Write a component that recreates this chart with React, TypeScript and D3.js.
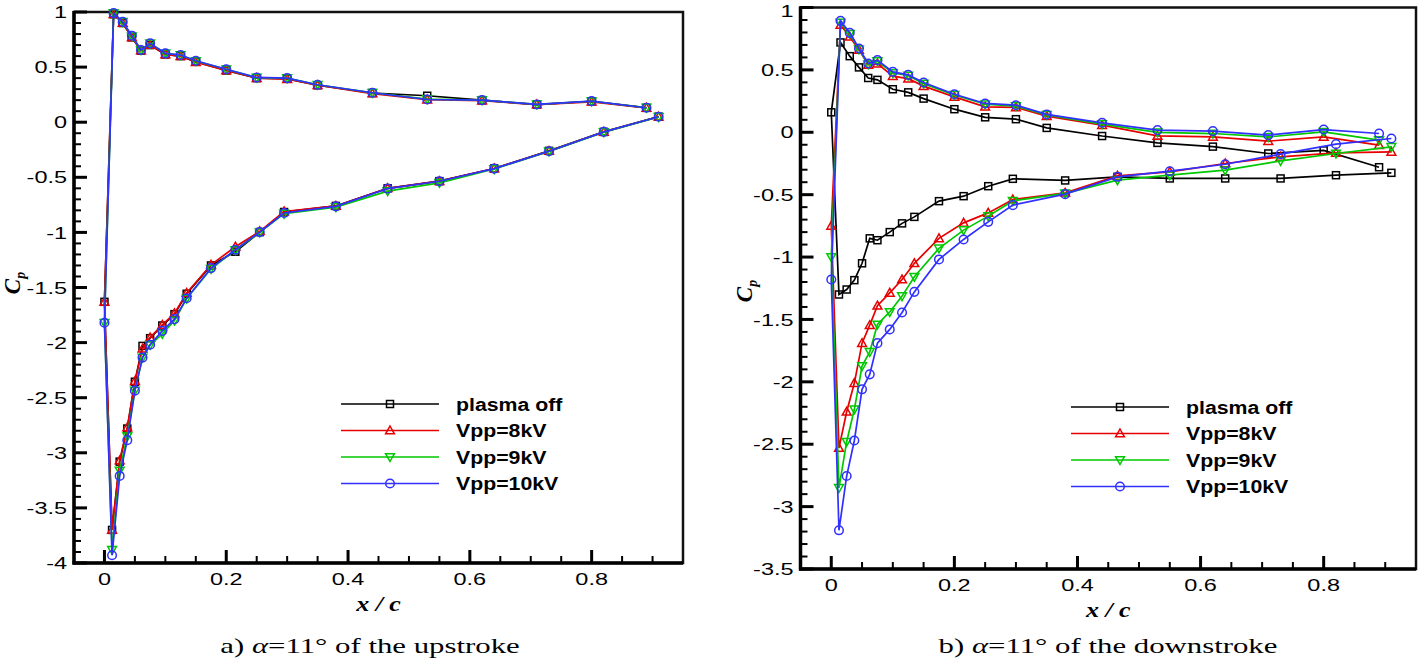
import React from 'react';
import * as d3 from 'd3';

// chordwise tap positions
const xUpper = [0, 0.015, 0.03, 0.045, 0.06, 0.075, 0.1, 0.125, 0.15, 0.2, 0.25, 0.3, 0.35, 0.44, 0.53, 0.62, 0.71, 0.8, 0.89];
const xLower = [0.0125, 0.025, 0.0375, 0.05, 0.0625, 0.075, 0.095, 0.115, 0.135, 0.175, 0.215, 0.255, 0.295, 0.38, 0.465, 0.55, 0.64, 0.73, 0.82, 0.91];

const seriesNames = ['plasma off', 'Vpp=8kV', 'Vpp=9kV', 'Vpp=10kV'];
const seriesColors = ['#000000', '#e60000', '#00c800', '#3030ff'];
const markerTypes = ['square', 'triangle', 'triangleDown', 'circle'];

// a) upstroke
const upOffUpper = [-1.63, 0.98, 0.9, 0.77, 0.65, 0.7, 0.615, 0.6, 0.55, 0.47, 0.4, 0.395, 0.335, 0.265, 0.24, 0.2, 0.16, 0.19, 0.13];
const up8Upper = [-1.63, 0.98, 0.9, 0.77, 0.65, 0.7, 0.615, 0.6, 0.545, 0.47, 0.4, 0.39, 0.335, 0.26, 0.205, 0.195, 0.16, 0.185, 0.13];
const up9Upper = [-1.82, 0.99, 0.91, 0.78, 0.655, 0.715, 0.625, 0.61, 0.555, 0.48, 0.405, 0.4, 0.34, 0.267, 0.21, 0.2, 0.162, 0.19, 0.132];
const up10Upper = [-1.82, 0.99, 0.91, 0.785, 0.655, 0.715, 0.625, 0.61, 0.558, 0.48, 0.406, 0.4, 0.34, 0.267, 0.206, 0.2, 0.161, 0.191, 0.131];
const upOffLower = [-3.7, -3.08, -2.78, -2.355, -2.03, -1.96, -1.845, -1.742, -1.557, -1.3, -1.175, -0.997, -0.815, -0.76, -0.6, -0.535, -0.42, -0.26, -0.088, 0.05];
const up8Lower = [-3.7, -3.07, -2.77, -2.35, -2.055, -1.955, -1.84, -1.735, -1.55, -1.294, -1.13, -0.99, -0.81, -0.76, -0.6, -0.535, -0.42, -0.262, -0.088, 0.049];
const up9Lower = [-3.88, -3.16, -2.85, -2.436, -2.136, -2.02, -1.92, -1.8, -1.6, -1.33, -1.16, -1.0, -0.83, -0.77, -0.625, -0.55, -0.425, -0.265, -0.09, 0.048];
const up10Lower = [-3.93, -3.21, -2.885, -2.436, -2.136, -2.02, -1.894, -1.787, -1.597, -1.324, -1.157, -0.997, -0.824, -0.764, -0.603, -0.536, -0.421, -0.264, -0.088, 0.049];

// b) downstroke
const downOffUpper = [0.16, 0.72, 0.61, 0.52, 0.435, 0.42, 0.345, 0.32, 0.27, 0.185, 0.12, 0.105, 0.035, -0.03, -0.085, -0.115, -0.17, -0.145, -0.28];
const down8Upper = [-0.75, 0.86, 0.765, 0.66, 0.54, 0.55, 0.45, 0.43, 0.37, 0.284, 0.204, 0.199, 0.129, 0.057, -0.029, -0.037, -0.071, -0.037, -0.103];
const down9Upper = [-1.0, 0.88, 0.79, 0.665, 0.545, 0.57, 0.475, 0.455, 0.39, 0.3, 0.225, 0.21, 0.14, 0.065, 0.0, -0.01, -0.037, 0.003, -0.063];
const down10Upper = [-1.18, 0.893, 0.797, 0.671, 0.551, 0.578, 0.484, 0.46, 0.399, 0.305, 0.231, 0.217, 0.143, 0.076, 0.017, 0.009, -0.023, 0.022, -0.01];
const downOffLower = [-1.3, -1.26, -1.185, -1.05, -0.85, -0.865, -0.8, -0.73, -0.678, -0.552, -0.512, -0.432, -0.373, -0.386, -0.357, -0.37, -0.37, -0.37, -0.344, -0.325];
const down8Lower = [-2.53, -2.24, -2.01, -1.69, -1.546, -1.39, -1.287, -1.18, -1.05, -0.85, -0.726, -0.646, -0.539, -0.485, -0.349, -0.317, -0.25, -0.197, -0.165, -0.157];
const down9Lower = [-2.85, -2.48, -2.22, -1.874, -1.76, -1.54, -1.44, -1.313, -1.158, -0.93, -0.784, -0.672, -0.55, -0.49, -0.384, -0.344, -0.304, -0.229, -0.17, -0.117];
const down10Lower = [-3.19, -2.755, -2.47, -2.06, -1.94, -1.69, -1.58, -1.444, -1.279, -1.019, -0.859, -0.718, -0.584, -0.496, -0.357, -0.312, -0.256, -0.175, -0.095, -0.05];

const xTicks = [0, 0.2, 0.4, 0.6, 0.8];

const SANS = 'Liberation Sans, Arial, Helvetica, sans-serif';
const SERIF = 'Liberation Serif, Times New Roman, serif';

function Marker({ type, cx, cy, color }) {
  if (type === 'square') {
    return <rect x={cx - 3.5} y={cy - 3.5} width={7} height={7} fill="none" stroke={color} strokeWidth={1.5} />;
  }
  if (type === 'triangle') {
    return <path d={`M${cx},${cy - 4.5}L${cx + 4.4},${cy + 3.3}L${cx - 4.4},${cy + 3.3}Z`} fill="none" stroke={color} strokeWidth={1.5} />;
  }
  if (type === 'triangleDown') {
    return <path d={`M${cx},${cy + 4.5}L${cx + 4.4},${cy - 3.3}L${cx - 4.4},${cy - 3.3}Z`} fill="none" stroke={color} strokeWidth={1.5} />;
  }
  return <circle cx={cx} cy={cy} r={4.3} fill="none" stroke={color} strokeWidth={1.5} />;
}

function Panel({ x0, x1, yTop, yBottom, yMin, uppers, lowers, legendX, legendY, captionX, label, caption, cpX, cpY }) {
  const xs = d3.scaleLinear().domain([-0.05, 0.95]).range([x0, x1]);
  const ys = d3.scaleLinear().domain([yMin, 1]).range([yBottom, yTop]);
  const line = d3.line().x(d => xs(d[0])).y(d => ys(d[1]));

  const yMajor = d3.range(yMin, 1.0001, 0.5);
  const yMinor = d3.range(yMin, 1.0001, 0.1).filter(v => Math.abs(v * 2 - Math.round(v * 2)) > 0.01);
  const xMinor = d3.range(0.05, 0.91, 0.05).filter(v => Math.abs(v * 5 - Math.round(v * 5)) > 0.01);

  const seriesPts = uppers.map((up, i) => {
    const lo = lowers[i].map((v, j) => [xLower[j], v]).reverse();
    const u = up.map((v, j) => [xUpper[j], v]);
    return lo.concat(u);
  });

  const fmt = v => {
    const r = Math.round(v * 10) / 10;
    return r === 0 ? '0' : String(r);
  };

  return (
    <g>
      <rect x={x0} y={yTop} width={x1 - x0} height={yBottom - yTop} fill="#fff" stroke="#111" strokeWidth={2.5} />
      <line x1={x0} x2={x0} y1={yTop - 1} y2={yBottom + 1.5} stroke="#000" strokeWidth={3.5} />
      <line x1={x0 - 1.5} x2={x1} y1={yBottom} y2={yBottom} stroke="#000" strokeWidth={3.5} />

      {yMajor.map(v => (
        <g key={'ym' + v}>
          <line x1={x0} x2={x0 + 13} y1={ys(v)} y2={ys(v)} stroke="#000" strokeWidth={3} />
          <text transform={`translate(${x0 - 7},${Math.max(ys(v), 11)}) scale(1.38,1)`} dy="0.36em" textAnchor="end" fontFamily={SANS} fontSize={17}>{fmt(v)}</text>
        </g>
      ))}
      {yMinor.map(v => (
        <line key={'yn' + v} x1={x0} x2={x0 + 7} y1={ys(v)} y2={ys(v)} stroke="#000" strokeWidth={2} />
      ))}
      {xTicks.map(v => (
        <g key={'xm' + v}>
          <line x1={xs(v)} x2={xs(v)} y1={yBottom} y2={yBottom - 13} stroke="#000" strokeWidth={3} />
          <text transform={`translate(${xs(v)},${yBottom + 22}) scale(1.38,1)`} textAnchor="middle" fontFamily={SANS} fontSize={17}>{fmt(v)}</text>
        </g>
      ))}
      {xMinor.map(v => (
        <line key={'xn' + v} x1={xs(v)} x2={xs(v)} y1={yBottom} y2={yBottom - 7} stroke="#000" strokeWidth={2} />
      ))}

      {seriesPts.map((pts, i) => (
        <g key={'s' + i}>
          <path d={line(pts)} fill="none" stroke={seriesColors[i]} strokeWidth={1.7} />
          {pts.map((p, j) => (
            <Marker key={j} type={markerTypes[i]} cx={xs(p[0])} cy={ys(p[1])} color={seriesColors[i]} />
          ))}
        </g>
      ))}

      {seriesNames.map((name, i) => {
        const y = legendY + i * 26.5;
        return (
          <g key={'l' + i}>
            <line x1={legendX} x2={legendX + 98} y1={y} y2={y} stroke={seriesColors[i]} strokeWidth={1.7} />
            <Marker type={markerTypes[i]} cx={legendX + 49} cy={y} color={seriesColors[i]} />
            <text transform={`translate(${legendX + 115},${y}) scale(1.15,1)`} dy="0.36em" fontFamily={SANS} fontWeight="bold" fontSize={18.5}>{name}</text>
          </g>
        );
      })}

      <text transform={`translate(${(x0 + x1) / 2},${yBottom + 48}) scale(1.3,1)`} textAnchor="middle" fontFamily={SERIF} fontWeight="bold" fontStyle="italic" fontSize={20}>x / c</text>
      <text transform={`translate(${cpX},${cpY}) rotate(-90)`} textAnchor="middle" fontFamily={SERIF} fontWeight="bold" fontStyle="italic" fontSize={23}>
        C<tspan dy={5} fontSize={14}>p</tspan>
      </text>

      <text transform={`translate(${captionX},653) scale(1.4,1)`} textAnchor="middle" fontFamily={SERIF} fontSize={22}>
        {label} <tspan fontStyle="italic">α</tspan>=11° of the {caption}
      </text>
    </g>
  );
}

export default function App() {
  return (
    <svg width={1418} height={661} style={{ position: 'absolute', left: 0, top: 0, background: '#fff' }}>
      <Panel
        x0={74} x1={683} yTop={12} yBottom={563} yMin={-4}
        uppers={[upOffUpper, up8Upper, up9Upper, up10Upper]}
        lowers={[upOffLower, up8Lower, up9Lower, up10Lower]}
        legendX={341} legendY={404} captionX={370} label="a)" caption="upstroke"
        cpX={20} cpY={283}
      />
      <Panel
        x0={800.5} x1={1416} yTop={7.5} yBottom={569} yMin={-3.5}
        uppers={[downOffUpper, down8Upper, down9Upper, down10Upper]}
        lowers={[downOffLower, down8Lower, down9Lower, down10Lower]}
        legendX={1071} legendY={407} captionX={1108} label="b)" caption="downstroke"
        cpX={752} cpY={291}
      />
    </svg>
  );
}
